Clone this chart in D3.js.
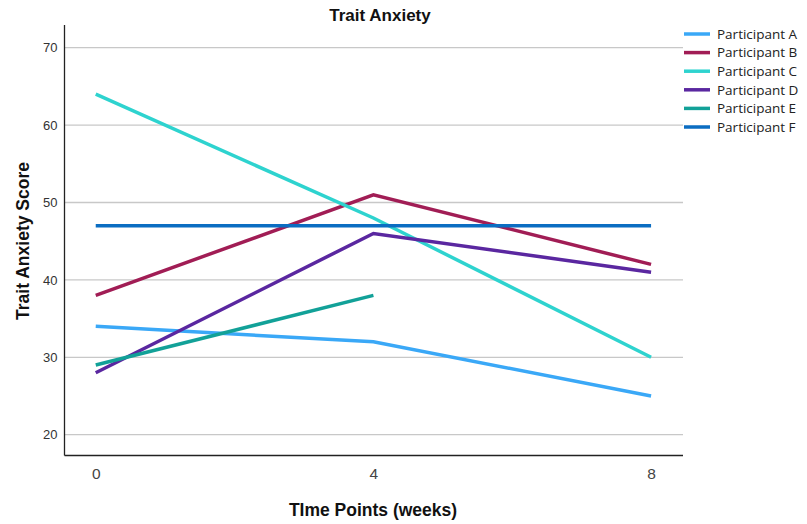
<!DOCTYPE html>
<html><head><meta charset="utf-8">
<script src="https://cdn.jsdelivr.net/npm/d3@7"></script>
<style>body{margin:0;background:#fff}</style>
</head><body>
<svg id="c" width="807" height="524"></svg>
<script>
const timePoints = [0, 4, 8];
const participants = ["Participant A","Participant B","Participant C","Participant D","Participant E","Participant F"];
const seriesA = [34, 32, 25];
const seriesB = [38, 51, 42];
const seriesC = [64, 48, 30];
const seriesD = [28, 46, 41];
const seriesE = [29, 38, null];
const seriesF = [47, 47, 47];
const colors = ["#3aa8f7","#a11d55","#2ed3cf","#5a27a0","#12a198","#0b6dc2"];
const yTicks = [20, 30, 40, 50, 60, 70];
const xTicks = [0, 4, 8];

const allSeries = [seriesA, seriesB, seriesC, seriesD, seriesE, seriesF];
const svg = d3.select("#c");
const L = 64.5, R = 683, T = 25, B = 455.5;
const x = d3.scaleLinear().domain([-0.45, 8.46]).range([L, R]);
const y = d3.scaleLinear().domain([20, 70]).range([434.7, 47.7]);
const FF = "Liberation Sans, Arial, sans-serif";

// gridlines
svg.append("g").selectAll("line").data(yTicks).join("line")
  .attr("x1", L).attr("x2", R).attr("y1", d => y(d)).attr("y2", d => y(d))
  .attr("stroke", "#c8c8c8").attr("stroke-width", 1.3);

// axes
const yAxis = d3.axisLeft(y).tickValues(yTicks).tickSize(0).tickPadding(7);
const gy = svg.append("g").attr("transform", `translate(${L},0)`).call(yAxis);
gy.select(".domain").remove();
gy.selectAll("text").attr("font-family",FF).attr("font-size", 13).attr("fill","#333");
const xAxis = d3.axisBottom(x).tickValues(xTicks).tickSize(0).tickPadding(12).tickFormat(d3.format("d"));
const gx = svg.append("g").attr("transform", `translate(0,${B})`).call(xAxis);
gx.select(".domain").remove();
gx.selectAll("text").attr("font-family",FF).attr("font-size", 15.5).attr("fill","#444");

svg.append("line").attr("x1", L).attr("x2", L).attr("y1", T).attr("y2", B).attr("stroke","#222").attr("stroke-width",1.3);
svg.append("line").attr("x1", L).attr("x2", R).attr("y1", B).attr("y2", B).attr("stroke","#222").attr("stroke-width",1.3);

// lines
const line = d3.line().defined(d => d.v !== null).x(d => x(d.t)).y(d => y(d.v));
allSeries.forEach((s, i) => {
  const pts = s.map((v, j) => ({t: timePoints[j], v}));
  svg.append("path").datum(pts).attr("d", line).attr("fill","none")
    .attr("stroke", colors[i]).attr("stroke-width", 3.5);
});

// titles
svg.append("text").attr("x", 380).attr("y", 21).attr("text-anchor","middle")
  .attr("font-family",FF).attr("font-weight","bold").attr("font-size",17).attr("fill","#111")
  .text("Trait Anxiety");
svg.append("text").attr("x", 373).attr("y", 516).attr("text-anchor","middle")
  .attr("font-family",FF).attr("font-weight","bold").attr("font-size",17.5).attr("fill","#111")
  .text("TIme Points (weeks)");
svg.append("text").attr("transform","translate(29,241) rotate(-90)").attr("text-anchor","middle")
  .attr("font-family",FF).attr("font-weight","bold").attr("font-size",17.5).attr("fill","#111")
  .text("Trait Anxiety Score");

// legend
const lg = svg.append("g");
participants.forEach((p, i) => {
  const ly = 34 + i * 18.6;
  lg.append("line").attr("x1", 684).attr("x2", 710).attr("y1", ly).attr("y2", ly)
    .attr("stroke", colors[i]).attr("stroke-width", 3.5);
  lg.append("text").attr("x", 717).attr("y", ly + 4.8)
    .attr("font-family","Open Sans, Noto Sans, sans-serif").attr("font-size", 13.5).attr("fill","#222")
    .text(p);
});
</script>
</body></html>
